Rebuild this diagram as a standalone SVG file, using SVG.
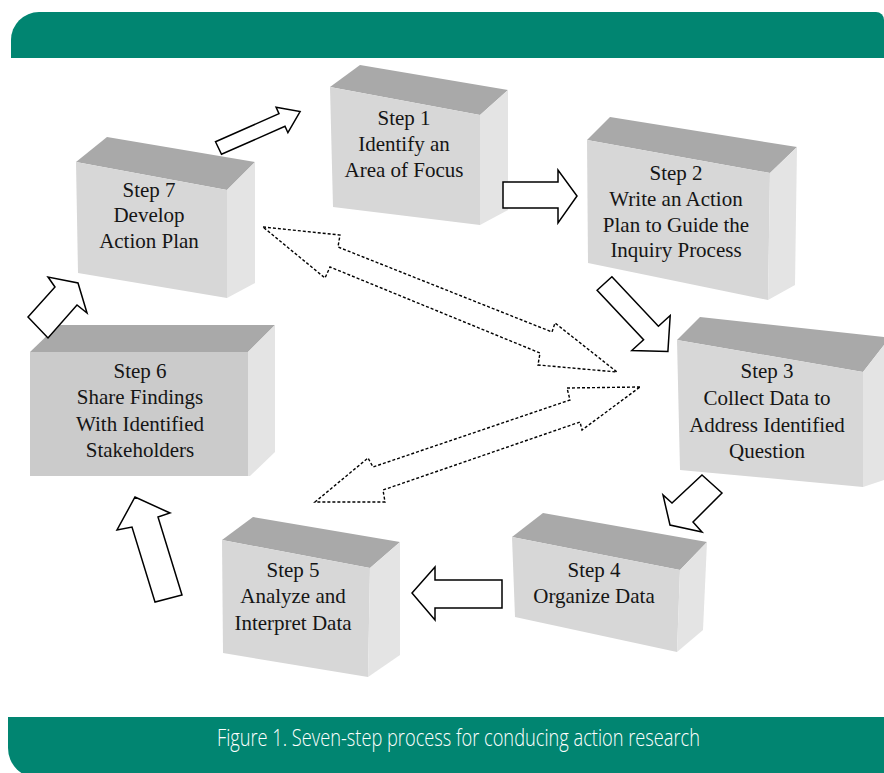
<svg xmlns="http://www.w3.org/2000/svg" width="884" height="773" viewBox="0 0 884 773">
<style>
.bg{fill:#ffffff}
.bar{fill:#018571}
.top{fill:#a9a9a9}
.front{fill:#d7d7d7}
.front6{fill:#cbcbcb}
.side{fill:#e4e4e4}
.lbl{font-family:"Liberation Serif","Times New Roman",serif;font-size:21px;fill:#151515;text-anchor:middle}
.cap{font-family:"Open Sans","Liberation Sans",sans-serif;font-weight:300;font-size:23px;fill:#ffffff;text-anchor:middle}
.arr{fill:#ffffff;stroke:#000000;stroke-width:1.5;stroke-linejoin:miter}
.darr{fill:#ffffff;stroke:#000000;stroke-width:1.4;stroke-dasharray:3 2}
</style>
<rect class="bg" x="0" y="0" width="884" height="773"/>
<path class="bar" d="M11 58 V40 A28 28 0 0 1 39 12 H876 A8 8 0 0 1 884 20 V58 Z"/>
<path class="bar" d="M884 717 H8 V748 A30 30 0 0 0 38 778 H884 Z"/>
<text class="cap" x="458.5" y="746" textLength="483" lengthAdjust="spacingAndGlyphs">Figure 1. Seven-step process for conducing action research</text>

<g id="step1">
<polygon class="top" points="330,87 360,65 508,90 480,115"/>
<polygon class="front" points="330,87 480,115 480,225 333,207"/>
<polygon class="side" points="480,115 508,90 508,210 480,225"/>
<text class="lbl" x="404" y="125">Step 1</text>
<text class="lbl" x="404" y="151">Identify an</text>
<text class="lbl" x="404" y="177">Area of Focus</text>
</g>

<g id="step2">
<polygon class="top" points="587,140 610,117 797,147 770,173"/>
<polygon class="front" points="587,140 770,173 768,300 588,263"/>
<polygon class="side" points="770,173 797,147 795,285 768,300"/>
<text class="lbl" x="676" y="180">Step 2</text>
<text class="lbl" x="676" y="206">Write an Action</text>
<text class="lbl" x="676" y="232">Plan to Guide the</text>
<text class="lbl" x="676" y="257">Inquiry Process</text>
</g>

<g id="step3">
<polygon class="top" points="677,340 700,317 884,337 884,345 863,372"/>
<polygon class="front" points="677,340 863,372 863,487 680,470"/>
<polygon class="side" points="863,372 884,345 884,480 863,487"/>
<text class="lbl" x="767" y="378">Step 3</text>
<text class="lbl" x="767" y="405">Collect Data to</text>
<text class="lbl" x="767" y="432">Address Identified</text>
<text class="lbl" x="767" y="458">Question</text>
</g>

<g id="step4">
<polygon class="top" points="512,537 543,513 707,542 680,570"/>
<polygon class="front" points="512,537 680,570 677,652 515,617"/>
<polygon class="side" points="680,570 707,542 703,630 677,652"/>
<text class="lbl" x="594" y="577">Step 4</text>
<text class="lbl" x="594" y="603">Organize Data</text>
</g>

<g id="step5">
<polygon class="top" points="222,540 253,517 400,542 370,568"/>
<polygon class="front" points="222,540 370,568 368,677 223,653"/>
<polygon class="side" points="370,568 400,542 400,655 368,677"/>
<text class="lbl" x="293" y="577">Step 5</text>
<text class="lbl" x="293" y="603">Analyze and</text>
<text class="lbl" x="293" y="630">Interpret Data</text>
</g>

<g id="step6">
<polygon class="top" points="30,352 58,325 275,325 248,352"/>
<polygon class="front6" points="30,352 248,352 248,476 30,476"/>
<polygon class="side" points="248,352 275,325 275,452 250,476 248,476"/>
<text class="lbl" x="140" y="378">Step 6</text>
<text class="lbl" x="140" y="404">Share Findings</text>
<text class="lbl" x="140" y="431">With Identified</text>
<text class="lbl" x="140" y="457">Stakeholders</text>
</g>

<g id="step7">
<polygon class="top" points="76,162 107,137 255,162 227,190"/>
<polygon class="front" points="76,162 227,190 227,298 78,273"/>
<polygon class="side" points="227,190 255,162 255,283 227,298"/>
<text class="lbl" x="149" y="197">Step 7</text>
<text class="lbl" x="149" y="222">Develop</text>
<text class="lbl" x="149" y="248">Action Plan</text>
</g>

<g id="connectors">
<polygon class="arr" points="215.5,141.7 279,113.7 276.1,107.3 300.1,111.6 287.9,132.7 285,126.3 221.5,154.3"/>
<polygon class="arr" points="503,182 558,182 558,170 577,196 558,223 558,208 503,208"/>
<polygon class="arr" points="611.9,276.8 658.4,326.3 670.2,315.5 667.9,351.5 631.8,350.5 643.6,339.7 597.1,290.2"/>
<polygon class="arr" points="702,475 722,493 693,522 702,532 670,525 663,495 672,503"/>
<polygon class="arr" points="502,580 435,580 435,567 412,593 435,620 435,608 502,608"/>
<polygon class="arr" points="155,602 132,527 117,530 135,497 170,513 158,517 182,595"/>
<polygon class="arr" points="28,317 55,287 48,277 78,283 87,313 77,305 48,338"/>
<polygon class="darr" points="263,227 340,235 338,247 552,332 555,323 617,372 538,365 540,353 330,267 325,278"/>
<polygon class="darr" points="640,387 567,388 570,400 373,467 368,458 315,502 385,502 383,490 580,422 582,430"/>
</g>
</svg>
